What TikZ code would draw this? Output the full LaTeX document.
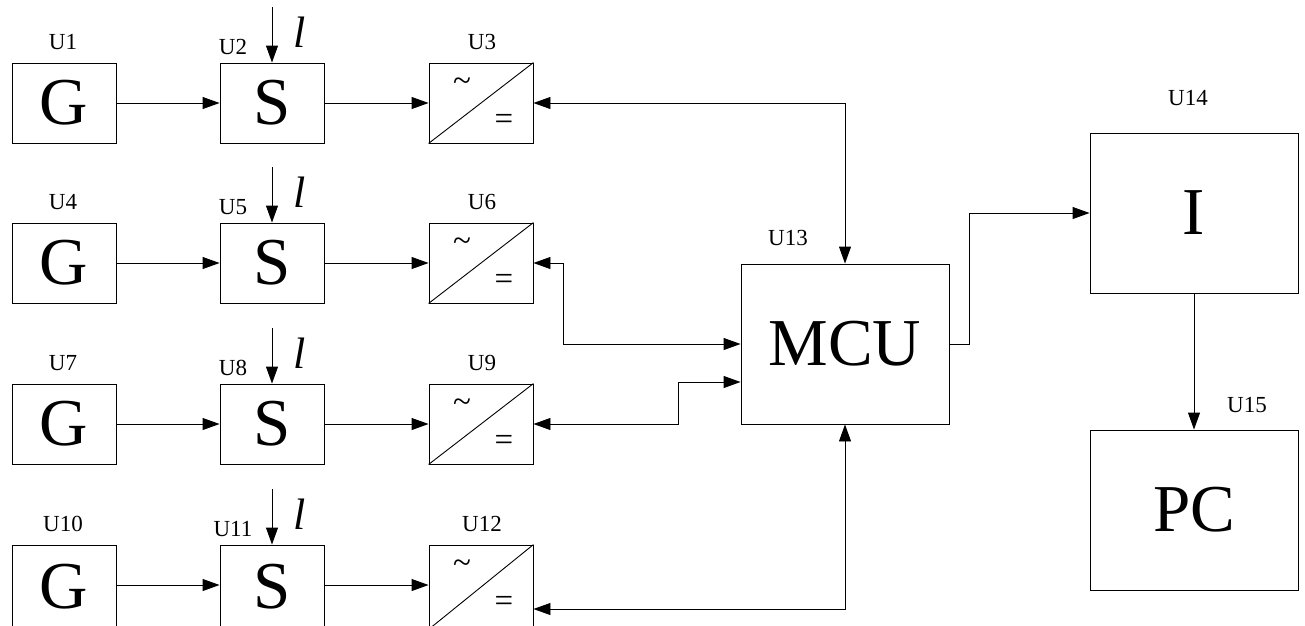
\documentclass[tikz,border=0pt]{standalone}
\usepackage{fontspec}
\setmainfont{Liberation Serif}
\usetikzlibrary{arrows.meta}
\begin{document}
\begin{tikzpicture}[x=1pt,y=-1pt, line width=0.9pt,
  >={Triangle[length=17pt,width=12pt]},
  blk/.style={draw, minimum width=104pt, inner sep=0pt, font=\fontsize{67}{67}\selectfont},
  conv/.style={draw, minimum width=104pt, inner sep=0pt},
  big/.style={draw, minimum width=208pt, minimum height=160pt, inner sep=0pt, font=\fontsize{67}{67}\selectfont},
  lab/.style={font=\fontsize{23}{23}\selectfont, inner sep=0pt},
  ell/.style={font=\fontsize{44}{44}\selectfont\itshape, inner sep=0pt},
  sym/.style={font=\fontsize{33}{33}\selectfont, inner sep=0pt}]
\useasboundingbox (0,0) rectangle (1305,625);
\clip (0,0) rectangle (1305,625);

\foreach \r/\t/\h in {1/63/80, 2/223/80, 3/384/80, 4/545/84}{
  \pgfmathsetmacro{\cy}{\t+\h/2}
  \pgfmathtruncatemacro{\ug}{3*\r-2}
  \pgfmathtruncatemacro{\us}{3*\r-1}
  \pgfmathtruncatemacro{\uc}{3*\r}
  \coordinate (m\r) at (0,\t+40);
  \node[blk, minimum height=\h pt] (g\r) at (64,\cy) {G};
  \node[blk, minimum height=\h pt] (s\r) at (272,\cy) {S};
  \node[conv, minimum height=\h pt] (c\r) at (481,\cy) {};
  \draw (c\r.south west) -- (c\r.north east);
  \node[sym] (t\r) at (462,\t+22) {\textasciitilde};
  \node[sym] (e\r) at (504,\t+59) {=};
  \node[lab] (lg\r) at (63,\t-21) {U\ug};
  \node[lab] (ls\r) at (233,\t-16) {U\us};
  \node[lab] (lc\r) at (482,\t-21) {U\uc};
  \node[ell] (l\r) at (300,\t-31) {l};
  \coordinate (lt\r) at (272,\t-56);
  \draw[->] (lt\r) -- (s\r.north);
  \draw[->] (g\r.east |- m\r) -- (s\r.west |- m\r);
  \draw[->] (s\r.east |- m\r) -- (c\r.west |- m\r);
}

\node[big] (mcu) at (845,344) {MCU};
\node[lab] (l13) at (788,238) {U13};
\node[big] (i) at (1194,213) {I};
\node[lab] (l14) at (1188,98) {U14};
\node[big] (pc) at (1194,510) {PC};
\node[lab] (l15) at (1247,405) {U15};

\coordinate (k2) at (563,0);
\coordinate (k3) at (678,382);
\coordinate (k4) at (845,609);
\coordinate (k5) at (969,0);

\draw[<->] (c1.east) -| (mcu.north);
\draw[<->] (c2.east) -- (c2.east -| k2) |- (mcu.west);
\draw[<->] (c3.east) -| (k3) -- (mcu.west |- k3);
\draw[<->] (c4.east |- k4) -| (mcu.south);
\draw[->] (mcu.east) -- (mcu.east -| k5) |- (i.west);
\draw[->] (i.south) -- (pc.north);
\end{tikzpicture}
\end{document}
